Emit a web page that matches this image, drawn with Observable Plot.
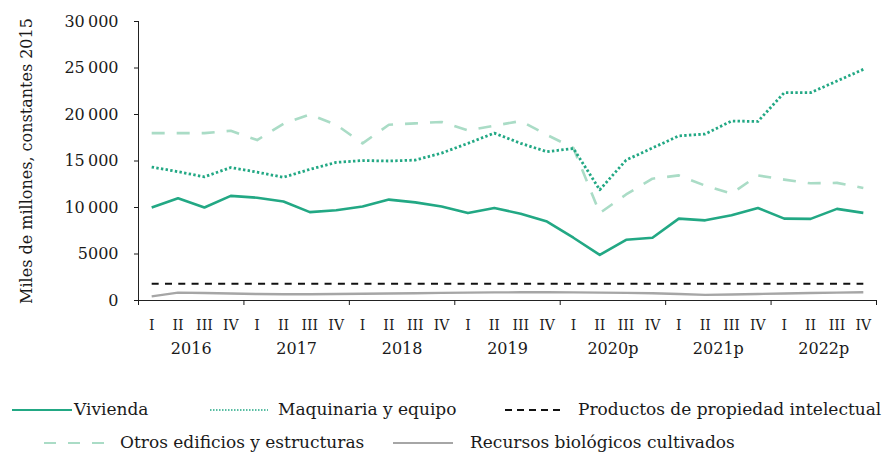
<!DOCTYPE html>
<html><head><meta charset="utf-8">
<script src="https://cdn.jsdelivr.net/npm/d3@7"></script>
<script src="https://cdn.jsdelivr.net/npm/@observablehq/plot@0.6"></script>
<style>
body{margin:0;background:#fff;font-family:"DejaVu Serif",serif;color:#1a1a1a;}
#legend{position:relative;width:894px;height:82px;font-size:17px;}
#legend .sw{position:absolute;height:12px;}
#legend .tx{position:absolute;white-space:nowrap;line-height:20px;}
</style></head><body>
<div id="chart"></div>
<div id="legend"></div>
<script>
const quarters = ["I","II","III","IV"];
const years = ["2016","2017","2018","2019","2020p","2021p","2022p"];
const yTicks = [0,5000,10000,15000,20000,25000,30000];

const vivienda   = [10000,11000,10000,11250,11050,10650,9500,9700,10100,10850,10550,10100,9400,9950,9320,8490,6750,4900,6530,6750,8800,8620,9160,9950,8800,8780,9850,9420];
const maquinaria = [14350,13850,13300,14300,13800,13250,14100,14850,15050,15000,15100,15850,16900,18000,16900,16000,16350,11900,15100,16400,17700,17900,19300,19250,22350,22350,23600,24850];
const productos  = [1800,1800,1800,1800,1800,1800,1800,1800,1800,1800,1800,1800,1800,1800,1800,1800,1800,1800,1800,1800,1800,1800,1800,1800,1800,1800,1800,1800];
const otros      = [18000,18000,18000,18250,17250,19000,20000,18900,16900,18900,19050,19200,18300,18800,19300,17800,16400,9400,11400,13100,13450,12350,11500,13450,13000,12600,12650,12100];
const recursos   = [450,850,800,750,700,680,680,700,720,750,780,820,850,870,880,880,870,850,820,780,700,600,650,700,750,800,850,880];

const series = [
  {name:"Otros edificios y estructuras", values:otros, stroke:"#aadcc6", width:2.6, dash:"13,12"},
  {name:"Recursos biológicos cultivados", values:recursos, stroke:"#a6a6a6", width:2.4, dash:null},
  {name:"Productos de propiedad intelectual", values:productos, stroke:"#111111", width:2.2, dash:"7,6.3"},
  {name:"Maquinaria y equipo", values:maquinaria, stroke:"#22a884", width:2.8, dash:"2.4,2.3"},
  {name:"Vivienda", values:vivienda, stroke:"#22a884", width:2.6, dash:null}
];

const n = years.length * quarters.length;
const idx = d3.range(n);
const boundaries = d3.range(years.length + 1).map(k => k * 4 - 0.5);
const fmt = d => d >= 10000 ? d3.format(",")(d).replace(/,/g, "\u2009") : String(d);

const lineMarks = series.map(s => Plot.lineY(s.values.map((v, i) => ({i, v})), {
  x: "i", y: "v", stroke: s.stroke, strokeWidth: s.width,
  strokeDasharray: s.dash || undefined, strokeLinecap: "butt", strokeLinejoin: "round"
}));

const chart = Plot.plot({
  width: 894, height: 370,
  marginLeft: 138, marginRight: 18, marginTop: 21, marginBottom: 70,
  style: {fontFamily: "DejaVu Serif, serif", fontSize: "16px", color: "#1a1a1a", background: "#fff"},
  x: {type: "linear", domain: [-0.5, n - 0.5]},
  y: {domain: [0, 30000]},
  marks: [
    ...lineMarks,
    Plot.frame({anchor: "left", stroke: "#222"}),
    Plot.frame({anchor: "bottom", stroke: "#222"}),
    Plot.axisY({ticks: yTicks, tickSize: 4, tickPadding: 16, tickFormat: fmt, fontSize: 16,
      label: "Miles de millones, constantes 2015", labelAnchor: "center", labelOffset: 118, labelArrow: "none"}),
    Plot.axisX({ticks: boundaries, tickSize: 5, tickFormat: () => "", label: null}),
    Plot.axisX({ticks: idx, tickSize: 0, tickPadding: 20, fontSize: 14, tickFormat: i => quarters[i % 4], label: null}),
    Plot.text(years, {x: (d, k) => k * 4 + 1.5, text: d => d, frameAnchor: "bottom", dy: 48, fontSize: 16, lineAnchor: "middle"})
  ]
});
document.getElementById("chart").appendChild(chart);

// legend
const legendItems = [
  {name:"Vivienda", stroke:"#22a884", width:2, dash:null, sx:12, sw:60, tx:74, row:0},
  {name:"Maquinaria y equipo", stroke:"#22a884", width:1.6, dash:"1.5,1.5", sx:210, sw:58, tx:278, row:0},
  {name:"Productos de propiedad intelectual", stroke:"#111", width:2, dash:"7,5", sx:505, sw:58, tx:578, row:0},
  {name:"Otros edificios y estructuras", stroke:"#aadcc6", width:2, dash:"12,12", sx:44, sw:61, tx:120, row:1},
  {name:"Recursos biológicos cultivados", stroke:"#a6a6a6", width:2, dash:null, sx:393, sw:60, tx:470, row:1}
];
const leg = document.getElementById("legend");
const rowY = [40, 73];
for (const it of legendItems) {
  const svg = d3.create("svg").attr("class", "sw").attr("width", it.sw).attr("height", 12)
    .style("left", it.sx + "px").style("top", (rowY[it.row] - 6) + "px");
  svg.append("line").attr("x1", 0).attr("x2", it.sw).attr("y1", 6).attr("y2", 6)
    .attr("stroke", it.stroke).attr("stroke-width", it.width)
    .attr("stroke-dasharray", it.dash);
  leg.appendChild(svg.node());
  const t = document.createElement("div");
  t.className = "tx"; t.textContent = it.name;
  t.style.left = it.tx + "px"; t.style.top = (rowY[it.row] - 11) + "px";
  leg.appendChild(t);
}
</script>
</body></html>
